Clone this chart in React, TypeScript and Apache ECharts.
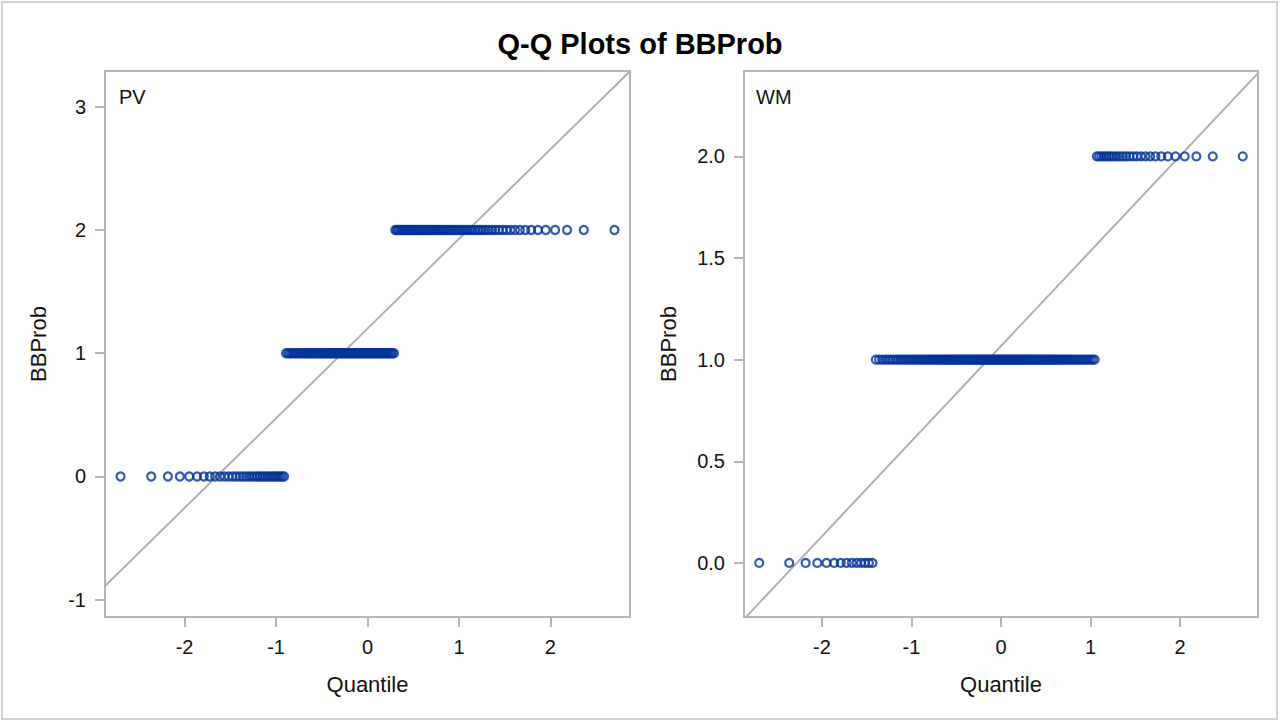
import React, { useEffect, useRef } from "react";
import * as echarts from "echarts";

// ---- data ----
const title = "Q-Q Plots of BBProb";
const levels = [0, 1, 2]; // observed BBProb values
const pvCounts = [33, 78, 69]; // number of PV observations at each level
const wmCounts = [14, 140, 26]; // number of WM observations at each level
const panelNames = ["PV", "WM"];
const xTicks = [-2, -1, 0, 1, 2];
const pvYTicks = [-1, 0, 1, 2, 3];
const wmYTicks = [0, 0.5, 1, 1.5, 2];
const xRange = [-2.87, 2.87];
const pvYRange = [-1.14, 3.29];
const wmYRange = [-0.266, 2.42];

// inverse standard normal CDF (Acklam)
function normInv(p: number): number {
  const a = [-3.969683028665376e1, 2.209460984245205e2, -2.759285104469687e2, 1.38357751867269e2, -3.066479806614716e1, 2.506628277459239];
  const b = [-5.447609879822406e1, 1.615858368580409e2, -1.556989798598866e2, 6.680131188771972e1, -1.328068155288572e1];
  const c = [-7.784894002430293e-3, -3.223964580411365e-1, -2.400758277161838, -2.549732539343734, 4.374664141464968, 2.938163982698783];
  const d = [7.784695709041462e-3, 3.224671290700398e-1, 2.445134137142996, 3.754408661907416];
  const plow = 0.02425;
  if (p < plow) {
    const q = Math.sqrt(-2 * Math.log(p));
    return (((((c[0] * q + c[1]) * q + c[2]) * q + c[3]) * q + c[4]) * q + c[5]) / ((((d[0] * q + d[1]) * q + d[2]) * q + d[3]) * q + 1);
  }
  if (p <= 1 - plow) {
    const q = p - 0.5;
    const r = q * q;
    return ((((((a[0] * r + a[1]) * r + a[2]) * r + a[3]) * r + a[4]) * r + a[5]) * q) / (((((b[0] * r + b[1]) * r + b[2]) * r + b[3]) * r + b[4]) * r + 1);
  }
  const q = Math.sqrt(-2 * Math.log(1 - p));
  return -(((((c[0] * q + c[1]) * q + c[2]) * q + c[3]) * q + c[4]) * q + c[5]) / ((((d[0] * q + d[1]) * q + d[2]) * q + d[3]) * q + 1);
}

// Q-Q plot: sorted observations against Blom normal quantiles
function qq(counts: number[]) {
  const obs: number[] = [];
  counts.forEach((cnt, k) => {
    for (let i = 0; i < cnt; i++) obs.push(levels[k]);
  });
  const n = obs.length;
  const pts = obs.map((v, i) => [normInv((i + 1 - 0.375) / (n + 0.25)), v]);
  const mean = obs.reduce((s, v) => s + v, 0) / n;
  const sd = Math.sqrt(obs.reduce((s, v) => s + (v - mean) * (v - mean), 0) / (n - 1));
  const line = [
    [xRange[0], mean + sd * xRange[0]],
    [xRange[1], mean + sd * xRange[1]],
  ];
  return { pts, line };
}

const FONT = "'Liberation Sans', Arial, sans-serif";
const TEXT = "#111";
const FRAME = "#b4b4b4";
const MARK = "#003399";

export default function App() {
  const ref = useRef<HTMLDivElement>(null);
  useEffect(() => {
    if (!ref.current) return;
    const chart = echarts.init(ref.current, undefined, { renderer: "svg" });
    const pv = qq(pvCounts);
    const wm = qq(wmCounts);
    const grids = [
      { left: 105, top: 71, width: 525, height: 546 },
      { left: 744, top: 71, width: 514, height: 546 },
    ];
    const xAxisFor = (gi: number) => ({
      type: "value",
      gridIndex: gi,
      position: "bottom",
      min: xRange[0],
      max: xRange[1],
      name: "Quantile",
      nameLocation: "middle",
      nameGap: 56,
      nameTextStyle: { fontFamily: FONT, fontSize: 22, color: TEXT },
      axisLine: { show: false, onZero: false },
      splitLine: { show: false },
      axisTick: { show: true, length: 10, lineStyle: { color: FRAME, width: 2 }, customValues: xTicks },
      axisLabel: { fontFamily: FONT, fontSize: 20, color: TEXT, margin: 20, customValues: xTicks },
    });
    const yAxisFor = (gi: number, range: number[], ticks: number[], gap: number, dec: number) => ({
      type: "value",
      gridIndex: gi,
      position: "left",
      min: range[0],
      max: range[1],
      name: "BBProb",
      nameLocation: "middle",
      nameGap: gap,
      nameTextStyle: { fontFamily: FONT, fontSize: 22, color: TEXT },
      axisLine: { show: false, onZero: false },
      splitLine: { show: false },
      axisTick: { show: true, length: 10, lineStyle: { color: FRAME, width: 2 }, customValues: ticks },
      axisLabel: {
        fontFamily: FONT,
        fontSize: 20,
        color: TEXT,
        margin: 19,
        customValues: ticks,
        formatter: (v: number) => v.toFixed(dec),
      },
    });
    const scatter = (gi: number, data: number[][]) => ({
      type: "scatter",
      xAxisIndex: gi,
      yAxisIndex: gi,
      data,
      symbol: "circle",
      symbolSize: 8,
      z: 3,
      itemStyle: { color: "rgba(255,255,255,0)", borderColor: MARK, borderWidth: 2.2 },
    });
    const refLine = (gi: number, data: number[][]) => ({
      type: "line",
      xAxisIndex: gi,
      yAxisIndex: gi,
      data,
      symbol: "none",
      clip: true,
      z: 2,
      lineStyle: { color: "#b0b0b0", width: 2 },
    });
    chart.setOption({
      animation: false,
      backgroundColor: "#ffffff",
      title: {
        text: title,
        left: "center",
        top: 24,
        textStyle: { fontFamily: FONT, fontSize: 29, fontWeight: "bold", color: "#000" },
      },
      grid: grids.map((g) => ({ ...g, show: true, borderColor: FRAME, borderWidth: 2, backgroundColor: "transparent" })),
      xAxis: [xAxisFor(0), xAxisFor(1)],
      yAxis: [yAxisFor(0, pvYRange, pvYTicks, 56, 0), yAxisFor(1, wmYRange, wmYTicks, 65, 1)],
      series: [refLine(0, pv.line), scatter(0, pv.pts), refLine(1, wm.line), scatter(1, wm.pts)],
      graphic: [
        {
          type: "rect",
          shape: { x: 2, y: 2, width: 1275, height: 717 },
          style: { fill: "none", stroke: "#d0d0d0", lineWidth: 2 },
          silent: true,
        },
        {
          type: "text",
          x: 119,
          y: 97,
          style: { text: panelNames[0], fontFamily: FONT, fontSize: 20, fill: TEXT, verticalAlign: "middle" },
        },
        {
          type: "text",
          x: 756,
          y: 97,
          style: { text: panelNames[1], fontFamily: FONT, fontSize: 20, fill: TEXT, verticalAlign: "middle" },
        },
      ],
    });
    return () => chart.dispose();
  }, []);
  return <div ref={ref} style={{ position: "fixed", left: 0, top: 0, width: 1280, height: 722 }} />;
}
